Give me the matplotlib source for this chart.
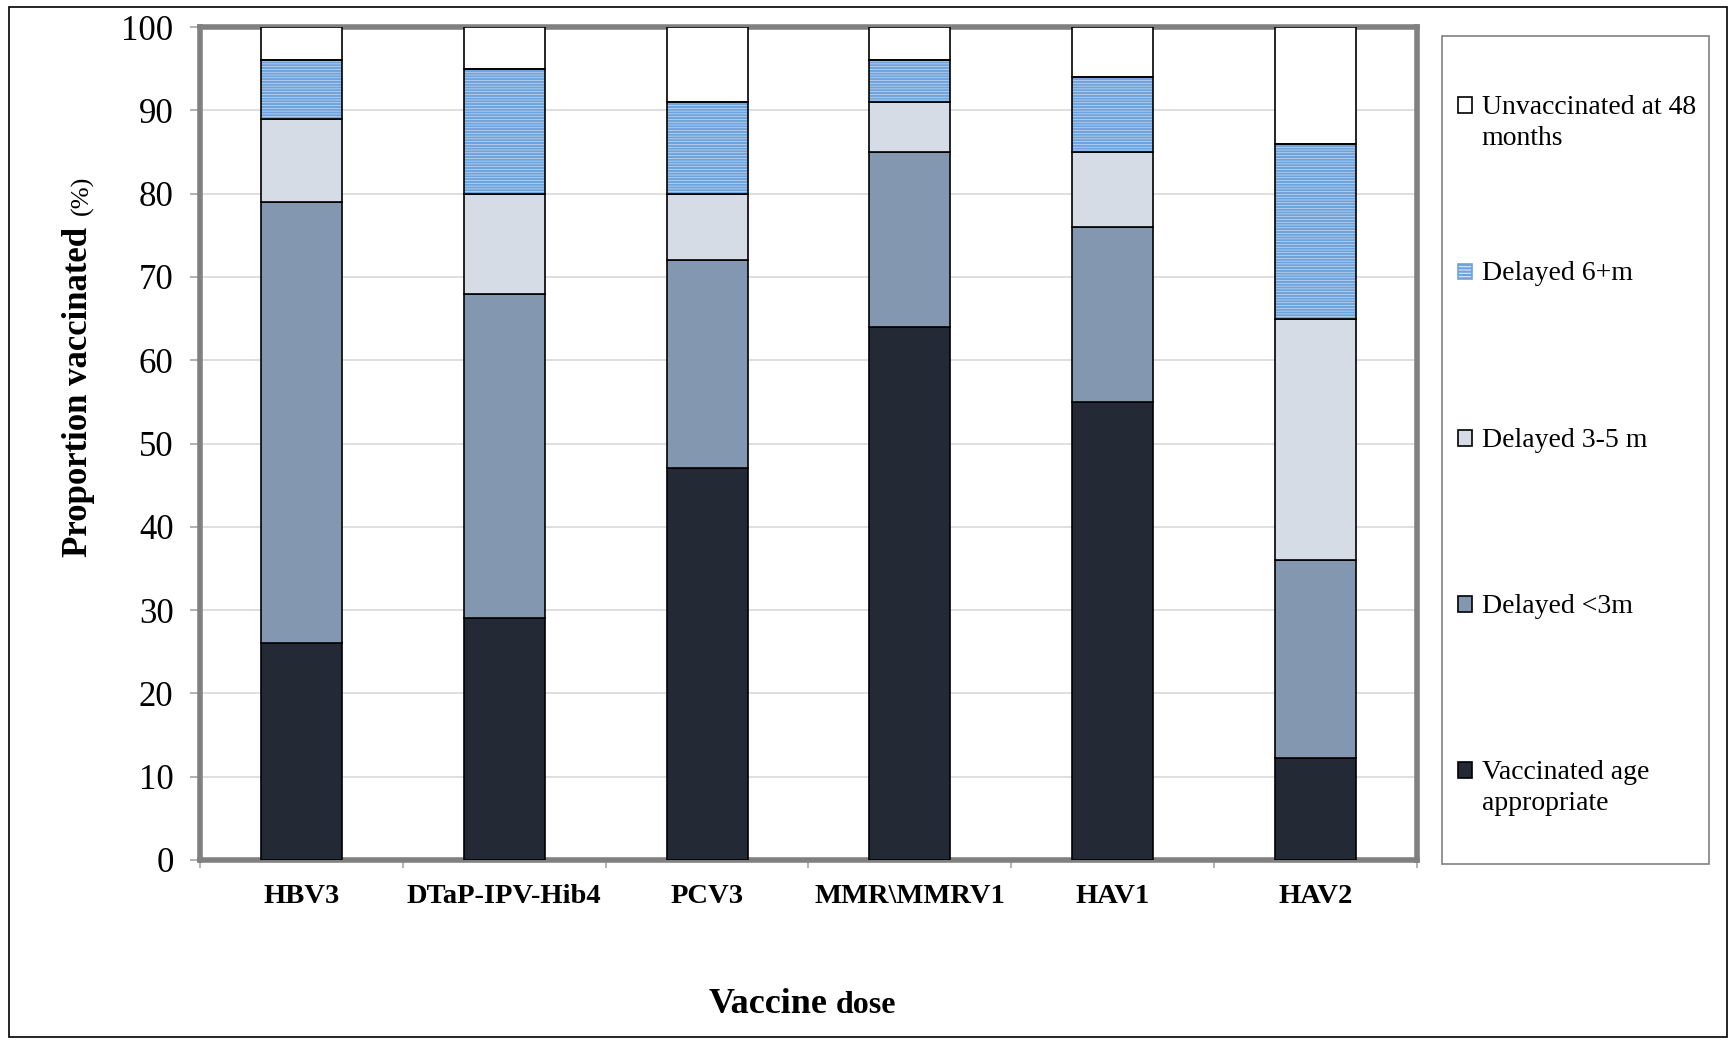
import matplotlib
matplotlib.use("Agg")
import matplotlib.pyplot as plt
from matplotlib.patches import Rectangle, Patch
from matplotlib.legend_handler import HandlerPatch
import numpy as np

categories = ["HBV3", "DTaP-IPV-Hib4", "PCV3", "MMR\\MMRV1", "HAV1", "HAV2"]
appropriate = [26, 29, 47, 64, 55, 12.2]
delayed_lt3 = [53, 39, 25, 21, 21, 23.8]
delayed_3_5 = [10, 12, 8, 6, 9, 29]
delayed_6p = [7, 15, 11, 5, 9, 21]
unvaccinated = [4, 5, 9, 4, 6, 14]
yticks = list(range(0, 101, 10))
legend_labels = ["Unvaccinated at 48\nmonths", "Delayed 6+m\n", "Delayed 3-5 m\n",
                 "Delayed <3m\n", "Vaccinated age\nappropriate"]

plt.rcParams['font.family'] = ['Liberation Serif', 'DejaVu Serif']
plt.rcParams['hatch.linewidth'] = 1.6

W, H = 1729, 1040
fig = plt.figure(figsize=(W / 100, H / 100), dpi=100)
ax = fig.add_axes([200 / W, 1 - 860 / H, (1417 - 200) / W, (860 - 27) / H])

x = np.arange(len(categories))
bw = 0.4
c_dark = "#232a35"
c_mid = "#8497b0"
c_light = "#d6dce5"
c_hatchbg = "#dde9f6"
c_hatch = "#6ea3dc"

b0 = np.zeros(len(x))
ax.bar(x, appropriate, bw, bottom=b0, color=c_dark, edgecolor="black", linewidth=1.2, zorder=3)
b1 = b0 + np.array(appropriate)
ax.bar(x, delayed_lt3, bw, bottom=b1, color=c_mid, edgecolor="black", linewidth=1.2, zorder=3)
b2 = b1 + np.array(delayed_lt3)
ax.bar(x, delayed_3_5, bw, bottom=b2, color=c_light, edgecolor="black", linewidth=1.2, zorder=3)
b3 = b2 + np.array(delayed_3_5)
ax.bar(x, delayed_6p, bw, bottom=b3, color=c_hatchbg, edgecolor=c_hatch, hatch="------",
       linewidth=0, zorder=3)
ax.bar(x, delayed_6p, bw, bottom=b3, fill=False, edgecolor="black", linewidth=1.2, zorder=4)
b4 = b3 + np.array(delayed_6p)
ax.bar(x, unvaccinated, bw, bottom=b4, color="white", edgecolor="black", linewidth=1.2, zorder=3)

ax.set_xlim(-0.5, len(x) - 0.5)
ax.set_ylim(0, 100)
ax.set_yticks(yticks)
ax.set_yticklabels([str(t) for t in yticks], fontsize=25)
ax.yaxis.grid(True, color="#d9d9d9", linewidth=1.2, zorder=0)
ax.set_axisbelow(True)
ax.set_xticks(x)
ax.set_xticklabels(categories, fontsize=20.5, fontweight="bold")
ax.set_xticks(np.arange(-0.5, len(x), 1.0), minor=True)
ax.tick_params(axis="x", which="major", length=0, pad=17)
ax.tick_params(axis="x", which="minor", length=6, color="#a6a6a6", width=1.2, direction="out")
ax.tick_params(axis="y", length=7, color="#a6a6a6", width=1.2, direction="out", pad=12)
for s in ax.spines.values():
    s.set_color("#808080")
    s.set_linewidth(4)

# y label (mixed sizes)
fig.text(79 / W, 1 - 557 / H, "Proportion vaccinated", rotation=90,
         fontsize=25, fontweight="bold", ha="center", va="bottom")
fig.text(82 / W, 1 - 176 / H, "(%)", rotation=90,
         fontsize=19, ha="center", va="top")
# x label (mixed sizes)
fig.text(709 / W, 1 - 1013 / H, "Vaccine", fontsize=26, fontweight="bold",
         ha="left", va="baseline")
fig.text(836 / W, 1 - 1013 / H, "dose", fontsize=23, fontweight="bold",
         ha="left", va="baseline")

fs_leg = 20


class TopHandler(HandlerPatch):
    def create_artists(self, legend, orig_handle, xdescent, ydescent, width, height,
                       fontsize, trans):
        shift = 0.62 * fontsize
        p = Rectangle((-xdescent, -ydescent + shift), width, height,
                      facecolor=orig_handle.get_facecolor(),
                      edgecolor=orig_handle.get_edgecolor(),
                      hatch=orig_handle.get_hatch(), linewidth=1.2)
        p.set_transform(trans)
        return [p]


handles = [
    Patch(facecolor="white", edgecolor="black", label=legend_labels[0]),
    Patch(facecolor=c_hatchbg, edgecolor=c_hatch, hatch="-----", label=legend_labels[1]),
    Patch(facecolor=c_light, edgecolor="black", label=legend_labels[2]),
    Patch(facecolor=c_mid, edgecolor="black", label=legend_labels[3]),
    Patch(facecolor=c_dark, edgecolor="black", label=legend_labels[4]),
]
leg = fig.legend(handles=handles, loc="upper left",
                 bbox_to_anchor=(1458 / W, 1 - 95 / H), fontsize=fs_leg,
                 frameon=False, handlelength=0.5, handleheight=0.5, handletextpad=0.35,
                 labelspacing=3.98, borderpad=0, borderaxespad=0,
                 handler_map={Patch: TopHandler()})
for t in leg.get_texts():
    t.set_linespacing(1.3)

# legend frame
fig.patches.append(Rectangle((1442 / W, 1 - 864 / H), (1709 - 1442) / W, (864 - 36) / H,
                             transform=fig.transFigure, fill=False, edgecolor="#808080",
                             linewidth=1.2))
# figure border
fig.patches.append(Rectangle((9 / W, 3 / H), 1718 / W, 1030 / H, transform=fig.transFigure,
                             fill=False, edgecolor="black", linewidth=1.2))

fig.savefig("out.png", dpi=100)
